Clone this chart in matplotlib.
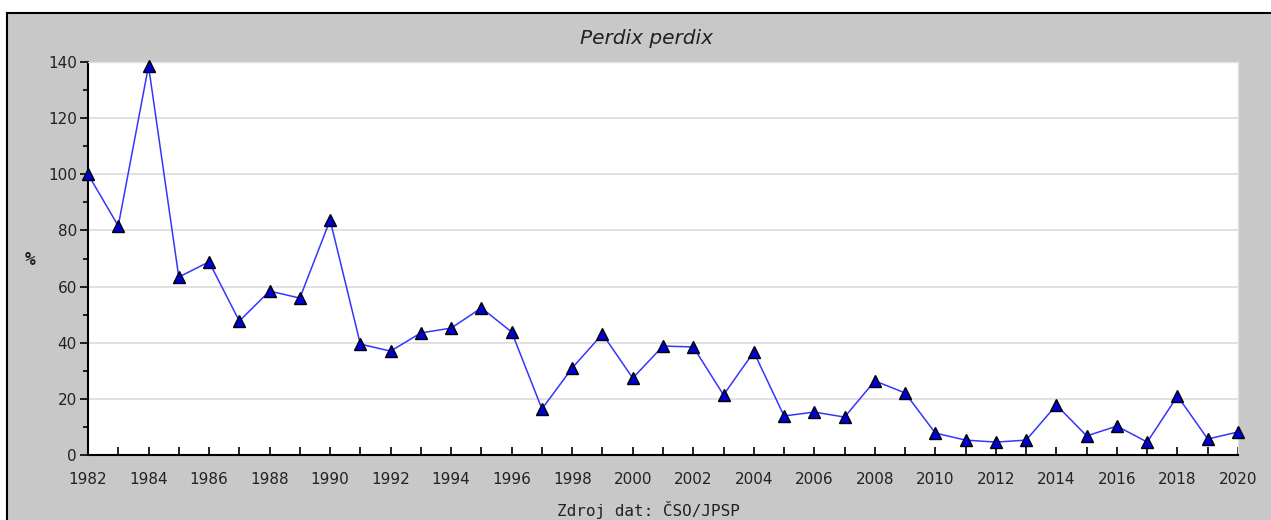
import numpy as np
import matplotlib.pyplot as plt
from matplotlib.ticker import MultipleLocator

# Data
years = list(range(1982, 2021))
values = [100, 81.6, 138.6, 63.4, 68.8, 47.7, 58.4, 55.9, 83.7, 39.5,
          37.0, 43.5, 45.2, 52.4, 43.8, 16.4, 31.0, 43.1, 27.4, 38.8,
          38.5, 21.4, 36.7, 13.9, 15.3, 13.5, 26.4, 22.1, 7.8, 5.3,
          4.6, 5.3, 17.8, 6.8, 10.3, 4.6, 21.0, 5.7, 8.2]
x_labels = [str(y) if y % 2 == 0 else "" for y in years]
title = "Perdix perdix"
source = "Zdroj dat: ČSO/JPSP"
ylabel = "%"

W, H = 1271, 520
fig = plt.figure(figsize=(W / 100, H / 100), dpi=100)
fig.patch.set_facecolor("white")

# gray panel with black border (top and left)
panel = plt.Rectangle((7 / W, 0), 1, 1 - 13 / H, transform=fig.transFigure,
                      facecolor="#c8c8c8", edgecolor="none", zorder=-2)
fig.patches.append(panel)
fig.add_artist(plt.Line2D([7 / W, 1], [1 - 13 / H, 1 - 13 / H], color="black", lw=1.5))
fig.add_artist(plt.Line2D([7 / W, 7 / W], [0, 1 - 13 / H], color="black", lw=1.5))

left, right, top, bottom = 88, 1238, 62, 455
ax = fig.add_axes([left / W, 1 - bottom / H, (right - left) / W, (bottom - top) / H])
ax.set_facecolor("white")

ax.plot(years, values, color="#3535ff", lw=1.1, marker="^", markersize=8,
        markerfacecolor="#0000d0", markeredgecolor="black", markeredgewidth=1.0,
        clip_on=False, zorder=3)

ax.set_xlim(1982, 2020)
ax.set_ylim(0, 140)
ax.set_xticks(years)
ax.set_xticklabels(x_labels)
ax.yaxis.set_major_locator(MultipleLocator(20))
ax.yaxis.set_minor_locator(MultipleLocator(10))
ax.grid(axis="y", which="major", color="#dcdcdc", lw=1.2)
ax.set_axisbelow(True)

for s in ["top", "right"]:
    ax.spines[s].set_color("#e0e0e0")
    ax.spines[s].set_linewidth(1)
for s in ["left", "bottom"]:
    ax.spines[s].set_color("black")
    ax.spines[s].set_linewidth(1.5)

ax.tick_params(axis="x", direction="in", length=6, width=1.2, colors="black",
               labelsize=11, pad=12)
ax.tick_params(axis="y", which="major", direction="out", length=6, width=1.2,
               labelsize=11, pad=2)
ax.tick_params(axis="y", which="minor", direction="out", length=3.5, width=1.2)
for lab in ax.get_xticklabels() + ax.get_yticklabels():
    lab.set_color("#222222")

fig.text(647 / W, 1 - 38 / H, title, ha="center", va="center", fontsize=14.5,
         style="italic", color="#222222")
fig.text(648 / W, 1 - 510 / H, source, ha="center", va="center", fontsize=11.5,
         family="DejaVu Sans Mono", color="#222222")
fig.text(30 / W, 1 - 260 / H, ylabel, ha="center", va="center", fontsize=13,
         family="DejaVu Sans Mono", weight="bold", color="#222222")

fig.savefig("out.png", dpi=100, facecolor=fig.get_facecolor())
